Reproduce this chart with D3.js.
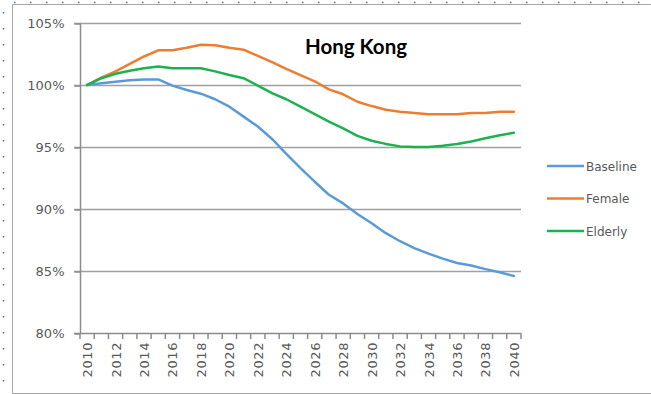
<!DOCTYPE html>
<html>
<head>
<meta charset="utf-8">
<script src="https://cdn.jsdelivr.net/npm/d3@7"></script>
<style>
  html, body { margin: 0; padding: 0; background: #fff; }
  svg { display: block; }
</style>
</head>
<body>
<svg id="chart" width="651" height="394"></svg>
<script>
// Population index relative to 2010 (percent), Hong Kong scenarios
const years = d3.range(2010, 2041);
const baseline = [100, 100.15, 100.27, 100.38, 100.45, 100.45, 99.95, 99.6, 99.3, 98.85,
  98.25, 97.45, 96.65, 95.65, 94.45, 93.3, 92.2, 91.15, 90.45, 89.6,
  88.85, 88.05, 87.4, 86.85, 86.4, 86.0, 85.65, 85.45, 85.15, 84.9, 84.6];
const female = [100, 100.6, 101.1, 101.7, 102.3, 102.8, 102.8, 103.0, 103.25, 103.2,
  103.0, 102.85, 102.35, 101.85, 101.3, 100.8, 100.3, 99.65, 99.25, 98.65,
  98.3, 98.0, 97.85, 97.75, 97.65, 97.65, 97.65, 97.75, 97.75, 97.85, 97.85];
const elderly = [100, 100.55, 100.9, 101.15, 101.35, 101.5, 101.35, 101.35, 101.35, 101.1,
  100.8, 100.55, 99.95, 99.35, 98.85, 98.25, 97.65, 97.05, 96.5, 95.9,
  95.5, 95.25, 95.05, 95.0, 95.0, 95.1, 95.25, 95.45, 95.7, 95.95, 96.15];
const yTicks = [80, 85, 90, 95, 100, 105];
const seriesNames = ["Baseline", "Female", "Elderly"];
const seriesColors = ["#5b9bd5", "#ed7d31", "#1db24f"];
const title = "Hong Kong";

const series = [baseline, female, elderly].map((vals, i) => ({
  name: seriesNames[i], color: seriesColors[i],
  values: vals.map((v, j) => ({ year: years[j], v }))
}));

const svg = d3.select("#chart");
const plot = { left: 80, right: 521, top: 23, bottom: 333 };

const x = d3.scalePoint().domain(years).range([plot.left, plot.right]).padding(0.5);
const y = d3.scaleLinear().domain([80, 105]).range([plot.bottom, plot.top]);

// Outer frame
const frame = svg.append("g");
frame.append("path")
  .attr("d", `M12.5,393.5 L12.5,4.5 L651,4.5 M12.5,393.5 L651,393.5`)
  .attr("fill", "none").attr("stroke", "#a6a6a6").attr("stroke-width", 1);
// dotted selection guides
frame.append("line").attr("x1", 14).attr("x2", 640).attr("y1", 2.5).attr("y2", 2.5)
  .attr("stroke", "#4472c4").attr("stroke-width", 1.5).attr("stroke-dasharray", "1.5,14.5");
frame.append("line").attr("x1", 3.5).attr("x2", 3.5).attr("y1", 12).attr("y2", 394)
  .attr("stroke", "#4472c4").attr("stroke-width", 1.5).attr("stroke-dasharray", "1.5,14.5");

// Horizontal gridlines
svg.append("g").selectAll("line").data(yTicks.filter(t => t > 80)).join("line")
  .attr("x1", plot.left - 6).attr("x2", plot.right)
  .attr("y1", d => Math.round(y(d)) + 0.5).attr("y2", d => Math.round(y(d)) + 0.5)
  .attr("stroke", "#a0a0a0").attr("stroke-width", 1.5);

// Y axis
const yAxis = d3.axisLeft(y).tickValues(yTicks).tickFormat(d => d + "%").tickSize(6).tickPadding(10);
const yg = svg.append("g").attr("transform", `translate(${plot.left + 0.5},0.5)`).call(yAxis);
yg.select(".domain").attr("stroke", "#8c8c8c").attr("stroke-width", 1.5).attr("d", `M0,${plot.top}V${plot.bottom}`);
yg.selectAll(".tick line").attr("stroke", "#8c8c8c").attr("stroke-width", 1.5);
yg.selectAll(".tick text").attr("fill", "#595959")
  .style("font-family", "'DejaVu Sans', sans-serif").style("font-size", "13px");

// X axis: tick marks at category boundaries, labels every other year
const step = x.step();
const boundaries = d3.range(years.length + 1).map(i => plot.left + i * step);
const xg = svg.append("g");
xg.append("line").attr("x1", plot.left - 6).attr("x2", plot.right)
  .attr("y1", y(80) + 0.5).attr("y2", y(80) + 0.5)
  .attr("stroke", "#8c8c8c").attr("stroke-width", 1.5);
xg.selectAll("line.tk").data(boundaries).join("line").attr("class", "tk")
  .attr("x1", d => d).attr("x2", d => d)
  .attr("y1", y(80)).attr("y2", y(80) + 6)
  .attr("stroke", "#8c8c8c").attr("stroke-width", 1.5);
xg.selectAll("text").data(years.filter(yr => (yr - 2010) % 2 === 0)).join("text")
  .attr("transform", d => `translate(${x(d) + 5},${y(80) + 9}) rotate(-90)`)
  .attr("text-anchor", "end")
  .attr("fill", "#595959")
  .style("font-family", "'DejaVu Sans', sans-serif").style("font-size", "13px")
  .style("letter-spacing", "0.6px")
  .text(d => d);

// Lines
const line = d3.line().x(d => x(d.year)).y(d => y(d.v));
svg.append("g").selectAll("path").data(series).join("path")
  .attr("d", d => line(d.values))
  .attr("fill", "none").attr("stroke", d => d.color)
  .attr("stroke-width", 2.5).attr("stroke-linejoin", "round").attr("stroke-linecap", "round");

// Title
svg.append("text").attr("x", 356).attr("y", 54).attr("text-anchor", "middle")
  .attr("fill", "#000").style("font-family", "Lato, 'Open Sans', sans-serif")
  .style("font-weight", "bold").style("font-size", "20.5px").text(title);

// Legend
const lg = svg.append("g").selectAll("g").data(series).join("g")
  .attr("transform", (d, i) => `translate(547,${166 + i * 32.5})`);
lg.append("line").attr("x1", 0).attr("x2", 37).attr("y1", 0).attr("y2", 0)
  .attr("stroke", d => d.color).attr("stroke-width", 2.5);
lg.append("text").attr("x", 39).attr("y", 4.5).attr("fill", "#595959")
  .style("font-family", "'DejaVu Sans', sans-serif").style("font-size", "12px")
  .text(d => d.name);
</script>
</body>
</html>
